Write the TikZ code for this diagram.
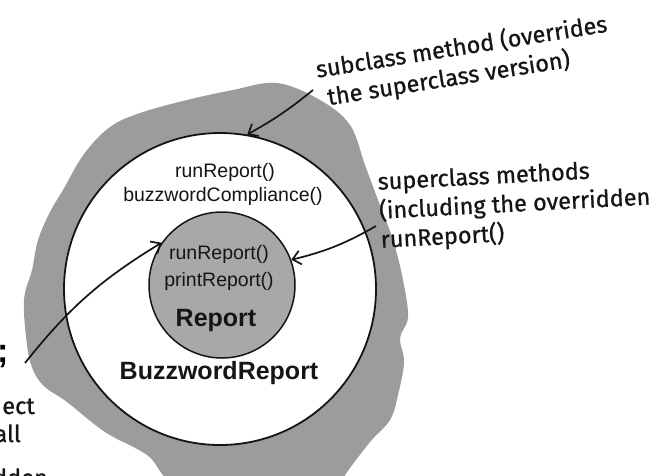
\documentclass[tikz,border=0pt]{standalone}
\usepackage{fontspec}
\setmainfont{Liberation Sans}
\newfontfamily\handfont[FakeBold=0.8]{Fira Sans}
\usepackage{xcolor}
\definecolor{blobGray}{HTML}{9C9C9C}
\definecolor{coreGray}{HTML}{A8A8A8}
\definecolor{inkBlack}{HTML}{151515}
\usetikzlibrary{
    arrows.meta,
    shapes.geometric
}
\tikzset{
    % Outer circle - the subclass object
    subclass ring/.style={
        circle,
        draw=inkBlack,
        line width=1.8pt,
        fill=white,
        minimum size=312pt,
        inner sep=0pt,
    },
    % Inner circle - the superclass part
    superclass core/.style={
        circle,
        draw=inkBlack,
        line width=1.5pt,
        fill=coreGray,
        minimum size=146pt,
        inner sep=0pt,
    },
    % Method names inside the circles
    method/.style={
        font=\fontsize{19.5}{20}\selectfont,
        text=inkBlack,
        inner sep=0pt,
    },
    % Class names
    class name/.style={
        font=\fontsize{25}{26}\selectfont\bfseries,
        text=inkBlack,
        inner sep=0pt,
    },
    % Handwritten notes
    note/.style={
        font=\handfont\fontsize{23.5}{29}\selectfont,
        text=inkBlack,
        inner sep=0pt,
        align=left,
        anchor=north west,
    },
    % Hand-drawn pointer arrows
    pointer/.style={
        -{Straight Barb[length=8pt, width=14pt]},
        line width=1.7pt,
        draw=inkBlack,
    },
}

\begin{document}
\begin{tikzpicture}[x=1pt, y=-1pt]
    \useasboundingbox (0,0) rectangle (660,475);

    % gray cloud behind the object
    \fill[blobGray] plot[smooth cycle, tension=0.6] coordinates {
        (63,190) (84,154) (110,127) (140,113) (187,100) (233,90) (277,83)
        (320,100) (350,125) (365,165) (378,200) (393,240) (403,280)
        (408,317) (400,338) (404,362) (398,395) (390,420) (370,442)
        (345,475) (337,490) (190,490) (147,455) (105,432) (67,402)
        (45,387) (33,370) (27,345) (24,300) (32,270) (38,240) (50,212)};

    \node (outer) [subclass ring] at (220,289) {};
    \node (inner) [superclass core] at (222,285) {};

    \node (subRun) [method] at (225,172) {runReport()};
    \node (subBuzz) [method] at (223,196) {buzzwordCompliance()};
    \node (superRun) [method] at (219,254) {runReport()};
    \node (superPrint) [method] at (219,281) {printReport()};
    \node (report) [class name] at (216,320) {Report};
    \node (buzzReport) [class name] at (219,373) {BuzzwordReport};

    \node (subNote) [note, rotate=9] at (314,58)
        {subclass method (overrides\\\hspace*{7pt}the superclass version)};
    \node (superNote) [note, rotate=3] at (377,172)
        {superclass methods\\(including the overridden\\runReport()};

    % cut-off text at the left edge
    \node (semi) [anchor=base west, inner sep=0pt, font=\fontsize{34}{34}\selectfont\bfseries] at (-3,362) {;};
    \node (leftA) [note, anchor=base east] at (35,414) {ect};
    \node (leftB) [note, anchor=base east] at (21,442) {all};
    \node (leftC) [note, anchor=base east] at (48,486) {dden};

    \coordinate (subTail) at (313,90);
    \coordinate (superTail) at (376,226);
    \coordinate (callTail) at (25,363);

    \draw [pointer] (subTail) to[bend left=5] (outer.80);
    \draw [pointer] (superTail) to[bend left=8] (inner.20);
    \draw [pointer] (callTail) to[bend left=10] (inner.145);
\end{tikzpicture}
\end{document}
